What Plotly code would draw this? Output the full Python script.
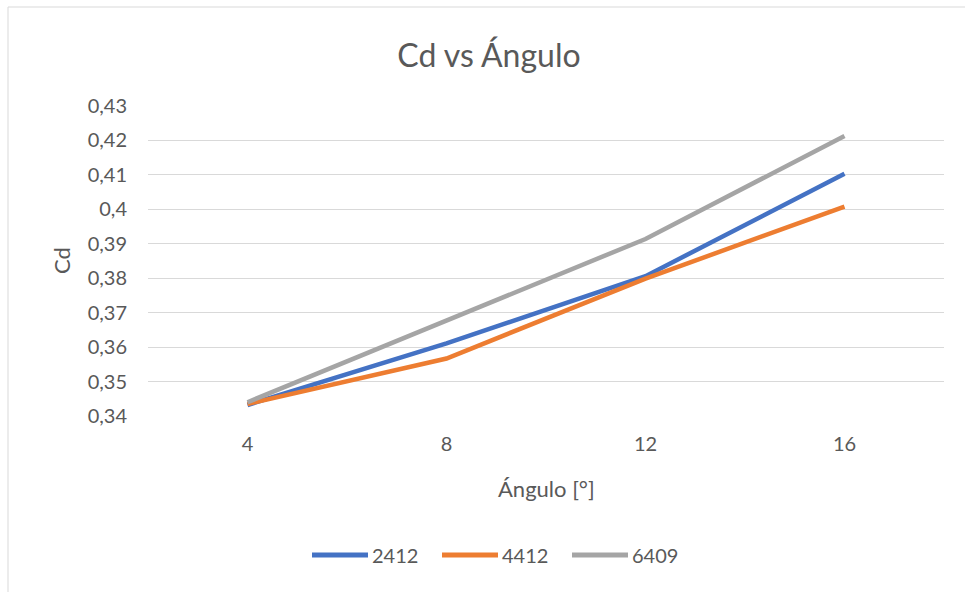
import plotly.graph_objects as go

# Angle of attack [deg] and drag coefficient per airfoil
angles = [4, 8, 12, 16]
cd_2412 = [0.3432, 0.3611, 0.3806, 0.4103]
cd_4412 = [0.3435, 0.3567, 0.3799, 0.4008]
cd_6409 = [0.3440, 0.3676, 0.3914, 0.4213]

series_names = ["2412", "4412", "6409"]
series_values = [cd_2412, cd_4412, cd_6409]
series_colors = ["#4472C4", "#ED7D31", "#A5A5A5"]

y_ticks = [0.34, 0.35, 0.36, 0.37, 0.38, 0.39, 0.40, 0.41, 0.42, 0.43]
y_tick_labels = ["0,34", "0,35", "0,36", "0,37", "0,38", "0,39", "0,4", "0,41", "0,42", "0,43"]
x_tick_labels = ["4", "8", "12", "16"]

W, H = 965, 592
L, R, T, B = 148, 21, 106, 176
pw, ph = W - L - R, H - T - B

def px_x(x):
    return (x - L) / pw

def px_y(y):
    return (H - B - y) / ph

FONT = "Lato, 'Open Sans', sans-serif"
TXT = "#595959"

fig = go.Figure()
for name, vals, col in zip(series_names, series_values, series_colors):
    fig.add_trace(go.Scatter(
        x=angles, y=vals, name=name, mode="lines",
        line=dict(color=col, width=4.5),
        showlegend=False,
    ))

shapes = [
    # outer chart frame
    dict(type="rect", xref="paper", yref="paper",
         x0=px_x(8), x1=px_x(990), y0=px_y(610), y1=px_y(7),
         line=dict(color="#D9D9D9", width=1), layer="below"),
]
annotations = [
    dict(text="Cd", xref="paper", yref="paper", x=px_x(61), y=0.5,
         textangle=-90, showarrow=False, xanchor="center", yanchor="middle",
         font=dict(family=FONT, size=22, color=TXT)),
    dict(text="Ángulo [°]", xref="paper", yref="paper", x=0.5, y=px_y(488),
         showarrow=False, xanchor="center", yanchor="middle",
         font=dict(family=FONT, size=22, color=TXT)),
]

# legend row below the plot
leg_y = px_y(555)
leg_start = [312, 442, 572]
for name, col, x0 in zip(series_names, series_colors, leg_start):
    shapes.append(dict(type="line", xref="paper", yref="paper",
                       x0=px_x(x0), x1=px_x(x0 + 56), y0=leg_y, y1=leg_y,
                       line=dict(color=col, width=5)))
    annotations.append(dict(text=name, xref="paper", yref="paper",
                            x=px_x(x0 + 58), y=leg_y, showarrow=False,
                            xanchor="left", yanchor="middle",
                            font=dict(family=FONT, size=20, color=TXT)))

fig.update_layout(
    width=W, height=H,
    margin=dict(l=L, r=R, t=T, b=B),
    paper_bgcolor="white", plot_bgcolor="white",
    font=dict(family=FONT, color=TXT),
    title=dict(text="Cd vs Ángulo", x=489 / W, xref="container", xanchor="center",
               y=1 - 56 / H, yref="container", yanchor="middle",
               font=dict(family=FONT, size=32, color=TXT)),
    xaxis=dict(range=[2, 18], tickvals=angles, ticktext=x_tick_labels,
               showgrid=False, zeroline=False, showline=False, ticks="",
               ticklabelstandoff=14,
               tickfont=dict(family=FONT, size=20, color=TXT)),
    yaxis=dict(range=[0.34, 0.43], tickvals=y_ticks, ticktext=y_tick_labels,
               showgrid=True, gridcolor="#D9D9D9", gridwidth=1,
               zeroline=False, showline=False, ticks="",
               ticklabelstandoff=20,
               tickfont=dict(family=FONT, size=20, color=TXT)),
    shapes=shapes,
    annotations=annotations,
    showlegend=False,
)

fig.write_html("out.html")
